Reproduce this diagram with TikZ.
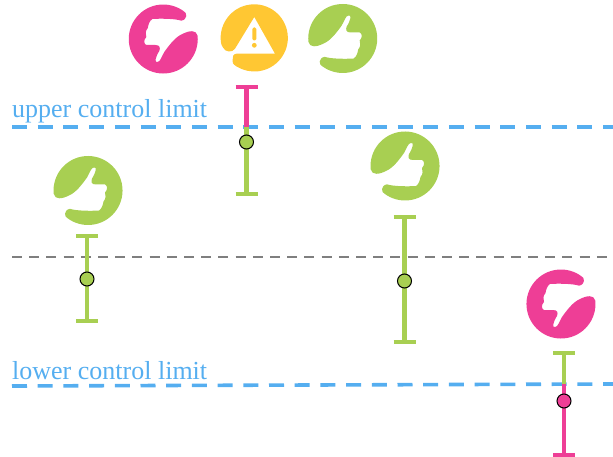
\documentclass[tikz,border=0pt]{standalone}
\usepackage{fontspec}
\setmainfont{Liberation Serif}
\definecolor{cgreen}{HTML}{A8CF52}
\definecolor{cpink}{HTML}{EE3E96}
\definecolor{cyellow}{HTML}{FFC733}
\definecolor{cblue}{HTML}{55AEF0}
\definecolor{cgray}{HTML}{7F7F7F}
\tikzset{
  x=1pt,y=-1pt,
  limitline/.style={cblue,line width=3.6pt,dash pattern=on 15pt off 10.7pt},
  meanline/.style={cgray,line width=2.8pt,dash pattern=on 10pt off 7.2pt},
  limitlabel/.style={cblue,font=\fontsize{26}{26}\selectfont,anchor=base west,inner sep=0pt},
  bar/.style={line width=4.2pt},
  capbar/.style={line width=3.6pt},
  dot/.style={circle,draw=black,line width=1pt,minimum size=14pt,inner sep=0pt},
  thumbicon/.pic={
    \fill[#1] (-34.3,3.3) arc[start angle=174.5,end angle=486,radius=34.5]
      .. controls (-24,26.5) and (-24.5,19.5) .. (-18,18.3)
      .. controls (-12,20.5) and (4,20.5) .. (11,20)
      .. controls (14,18) and (15,14) .. (15.5,11)
      .. controls (18,8) and (18,5) .. (17,2)
      .. controls (20,-1) and (19.5,-5) .. (17,-6)
      -- (8,-6) .. controls (3,-6) and (3,-9) .. (4,-12)
      .. controls (8,-18) and (9,-24) .. (6,-23)
      .. controls (3,-23) and (2,-18) .. (-1,-13)
      .. controls (-6,-6) and (-12,2) .. (-19,5)
      .. controls (-26,8.5) and (-33,9.5) .. (-34.3,3.3) -- cycle;
  },
}
\begin{document}
\begin{tikzpicture}
\useasboundingbox (0,0) rectangle (613,457);
\coordinate (uL) at (12,127); \coordinate (uR) at (613,127);
\coordinate (mL) at (12,257); \coordinate (mR) at (607,257);
\coordinate (lL) at (12,386); \coordinate (lR) at (613,384);
\draw[limitline] (uL) -- (uR);
\draw[meanline] (mL) -- (mR);
\draw[limitline] (lL) -- (lR);
\node[limitlabel] (ulabel) at (12,117.5) {upper control limit};
\node[limitlabel] (llabel) at (12,379) {lower control limit};
% icons
\pic at (163.3,39) {thumbicon={cpink,rotate=180}};
\pic at (342.7,38.5) {thumbicon={cgreen}};
\pic at (88,190.5) {thumbicon={cgreen}};
\pic at (405,166) {thumbicon={cgreen}};
\pic at (561,304) {thumbicon={cpink,rotate=180}};
\begin{scope}[shift={(254.3,38)}]
\fill[cyellow] (-33.4,4) arc[start angle=173,end angle=482,radius=33.6]
  .. controls (-21,26.5) and (-23,24) .. (-21.7,22)
  .. controls (-22,19) and (-21,15.7) .. (-17.7,15.7)
  -- (20.7,15.7) -- (0,-21) -- (-19.3,10.7)
  .. controls (-22,15) and (-29,14) .. (-31,10)
  .. controls (-32.5,8) and (-33.3,6) .. (-33.4,4) -- cycle;
\fill[cyellow,rounded corners=1.5pt] (-2,-10.5) rectangle (2,2.5);
\fill[cyellow] (0,7.3) circle[radius=2.4];
\end{scope}
% error bars
\foreach \n/\x/\t/\b/\d/\f in {a/87/236/321/279/cgreen,c/404.5/217/342/281/cgreen}{
  \coordinate (\n t) at (\x,\t); \coordinate (\n b) at (\x,\b);
  \draw[bar,cgreen] (\n t) -- (\n b);
  \draw[capbar,cgreen] ([xshift=-11pt]\n t) -- ([xshift=11pt]\n t);
  \draw[capbar,cgreen] ([xshift=-11pt]\n b) -- ([xshift=11pt]\n b);
  \node[dot,fill=\f] (\n d) at (\x,\d) {};
}
\coordinate (bt) at (246.5,87); \coordinate (bm) at (246.5,127); \coordinate (bb) at (246.5,194);
\draw[bar,cpink] (bt) -- (bm);
\draw[bar,cgreen] (bm) -- (bb);
\draw[capbar,cpink] ([xshift=-11pt]bt) -- ([xshift=11pt]bt);
\draw[capbar,cgreen] ([xshift=-11pt]bb) -- ([xshift=11pt]bb);
\node[dot,fill=cgreen] (bd) at (246.5,142) {};
\coordinate (dt) at (564,353); \coordinate (dm) at (564,384); \coordinate (db) at (564,455);
\draw[bar,cgreen] (dt) -- (dm);
\draw[bar,cpink] (dm) -- (db);
\draw[capbar,cgreen] ([xshift=-11pt]dt) -- ([xshift=11pt]dt);
\draw[capbar,cpink] ([xshift=-11pt]db) -- ([xshift=11pt]db);
\node[dot,fill=cpink] (dd) at (564,401) {};
\end{tikzpicture}
\end{document}
